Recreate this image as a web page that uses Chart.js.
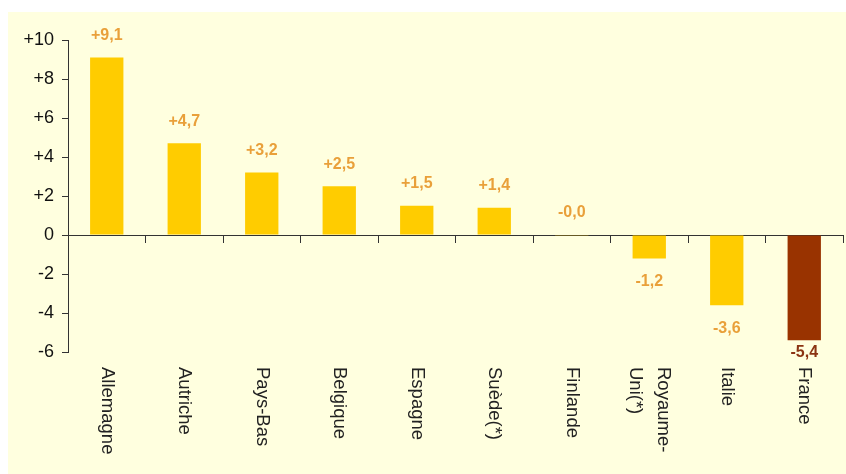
<!DOCTYPE html>
<html>
<head>
<meta charset="utf-8">
<script src="https://cdn.jsdelivr.net/npm/chart.js@4/dist/chart.umd.min.js"></script>
<style>
    body { margin: 0; background: #ffffff; }
    #wrap { position: absolute; left: 8px; top: 12px; width: 838px; height: 462px; background: #ffffdf; }
</style>
</head>
<body>
<div id="wrap"><canvas id="pays-canvas" width="838" height="462"></canvas></div>
<script>
'use strict';

// pays et écarts (points)
const pays = ['Allemagne', 'Autriche', 'Pays-Bas', 'Belgique', 'Espagne', 'Suède(*)', 'Finlande', ['Royaume-', 'Uni(*)'], 'Italie', 'France'];
const ecarts = [9.1, 4.7, 3.2, 2.5, 1.5, 1.4, -0.01, -1.2, -3.6, -5.4];
const yTicks = [-6, -4, -2, 0, 2, 4, 6, 8, 10];

const jaune = '#ffcc00',
    brun = '#993300',
    orangeTexte = '#e9a03a',
    brunTexte = '#8b3412';

function couleurBarre(i) {
    return pays[i] === 'France' ? brun : jaune;
}

function formatValeur(v) {
    let signe = v < 0 ? '-' : '+';
    return signe + Math.abs(v).toFixed(1).replace('.', ',');
}

// étiquettes des valeurs et des pays dessinées à la main (texte tourné vers la droite)
const etiquettes = {
    id: 'etiquettes',
    afterDatasetsDraw(chart) {
        let ctx = chart.ctx,
            meta = chart.getDatasetMeta(0),
            xScale = chart.scales.x,
            area = chart.chartArea,
            base = chart.scales.y.getPixelForValue(0);

        ctx.save();
        ctx.font = 'bold 16px "Liberation Sans", Arial, sans-serif';
        ctx.textAlign = 'center';
        ctx.textBaseline = 'middle';
        meta.data.forEach(function (bar, i) {
            let v = ecarts[i],
                y = v > -0.05 ? Math.min(bar.y, base) - 22 : Math.min(bar.y + 23, area.bottom + 1);
            ctx.fillStyle = pays[i] === 'France' ? brunTexte : orangeTexte;
            ctx.fillText(formatValeur(v), bar.x, y);
        });

        ctx.font = '18.5px "Liberation Sans", Arial, sans-serif';
        ctx.fillStyle = '#222222';
        ctx.textAlign = 'left';
        let top = area.bottom + 15;
        pays.forEach(function (nom, i) {
            let lignes = Array.isArray(nom) ? nom : [nom],
                x = xScale.getPixelForValue(i),
                lh = 28;
            ctx.save();
            ctx.translate(x, top);
            ctx.rotate(Math.PI / 2);
            lignes.forEach(function (l, k) {
                ctx.fillText(l, 0, (k - (lignes.length - 1) / 2) * lh);
            });
            ctx.restore();
        });
        ctx.restore();
    }
};

Chart.defaults.font.family = '"Liberation Sans", Arial, sans-serif';

new Chart(document.getElementById('pays-canvas'), {
    type: 'bar',
    data: {
        labels: pays,
        datasets: [{
            data: ecarts,
            backgroundColor: ecarts.map(function (v, i) { return couleurBarre(i); }),
            borderWidth: 0,
            barPercentage: 0.43,
            categoryPercentage: 1
        }]
    },
    options: {
        responsive: false,
        animation: false,
        layout: {
            padding: { left: 0, top: 28, right: 3, bottom: 122 }
        },
        plugins: {
            legend: { display: false },
            tooltip: { enabled: false }
        },
        scales: {
            x: {
                position: { y: 0 },
                offset: true,
                afterFit: function (s) { s.height = 0; },
                grid: {
                    offset: true,
                    drawOnChartArea: false,
                    drawTicks: true,
                    tickLength: 7,
                    color: '#333333'
                },
                border: { display: true, color: '#333333', width: 1 },
                ticks: { display: false }
            },
            y: {
                min: -6,
                max: 10,
                afterFit: function (s) { s.width = 60; },
                afterBuildTicks: function (s) {
                    s.ticks = yTicks.map(function (v) { return { value: v }; });
                },
                grid: {
                    drawOnChartArea: false,
                    drawTicks: true,
                    tickLength: 6,
                    color: '#333333'
                },
                border: { display: true, color: '#333333', width: 1 },
                ticks: {
                    color: '#111111',
                    padding: 8,
                    font: { size: 18 },
                    callback: function (v) { return v > 0 ? '+' + v : String(v); }
                }
            }
        }
    },
    plugins: [etiquettes]
});
</script>
</body>
</html>
